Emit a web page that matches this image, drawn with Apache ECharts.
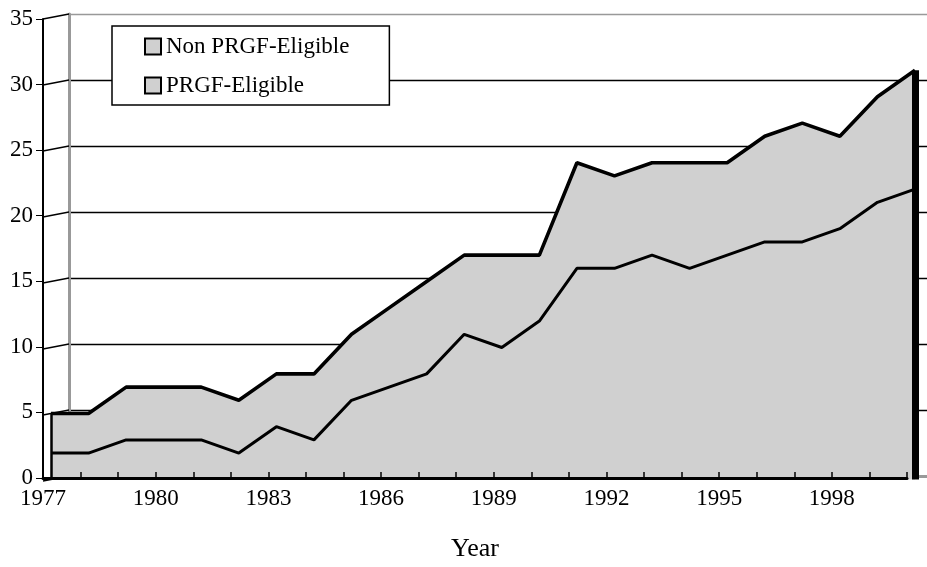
<!DOCTYPE html>
<html>
<head>
<meta charset="utf-8">
<script src="https://cdn.jsdelivr.net/npm/echarts@6/dist/echarts.min.js"></script>
<style>
  html, body { margin: 0; background: #fff; }
  #chart { width: 927px; height: 567px; }
</style>
</head>
<body>
<div id="chart"></div>
<script>
// values
const years = ['1977', '1978', '1979', '1980', '1981', '1982', '1983', '1984',
  '1985', '1986', '1987', '1988', '1989', '1990', '1991', '1992', '1993',
  '1994', '1995', '1996', '1997', '1998', '1999', '2000'];
const prgf = [2, 2, 3, 3, 3, 2, 4, 3, 6, 7, 8, 11, 10, 12, 16, 16, 17, 16, 17, 18, 18, 19, 21, 22];
const nonPrgf = [3, 3, 4, 4, 4, 4, 4, 5, 5, 6, 7, 6, 7, 5, 8, 7, 7, 8, 7, 8, 9, 7, 8, 9];
const yTicks = [0, 5, 10, 15, 20, 25, 30, 35];

const FONT = "'Liberation Serif', 'Times New Roman', serif";
const FILL = '#d0d0d0';
const last = years.length - 1;
const firstTotal = prgf[0] + nonPrgf[0];
const lastTotal = prgf[last] + nonPrgf[last];

const chart = echarts.init(document.getElementById('chart'));

const option = {
  animation: false,
  backgroundColor: '#fff',
  legend: {
    data: ['Non PRGF-Eligible', 'PRGF-Eligible'],
    orient: 'vertical',
    left: 112,
    top: 26,
    padding: [9, 40, 8, 32],
    itemGap: 16,
    itemWidth: 16,
    itemHeight: 16,
    icon: 'rect',
    itemStyle: { color: FILL, borderColor: '#000', borderWidth: 2 },
    backgroundColor: '#fff',
    borderColor: '#000',
    borderWidth: 1.5,
    textStyle: { fontFamily: FONT, fontSize: 23, color: '#000' },
    z: 20,
  },
  grid: [
    // front axes
    { left: 43, right: 20, top: 19, bottom: 86 },
    // data plane
    { left: 51, right: 12, top: 17.5, bottom: 87.5 },
    // back wall
    { left: 69, right: 0, top: 14, bottom: 91 },
  ],
  xAxis: [
    {
      gridIndex: 0,
      type: 'category',
      data: years,
      boundaryGap: false,
      z: 10,
      name: 'Year',
      nameLocation: 'middle',
      nameGap: 58,
      nameTextStyle: { fontFamily: FONT, fontSize: 26, color: '#000' },
      axisLine: { lineStyle: { color: '#000', width: 3 } },
      axisTick: { inside: true, length: 6, interval: 0, lineStyle: { color: '#000', width: 1.5 } },
      axisLabel: { interval: 2, margin: 9, fontFamily: FONT, fontSize: 23, color: '#000' },
      splitLine: { show: false },
    },
    {
      gridIndex: 1,
      type: 'category',
      data: years,
      boundaryGap: false,
      show: false,
    },
    {
      gridIndex: 2,
      type: 'value',
      min: 0,
      max: 1,
      position: 'top',
      z: 1,
      axisLine: { show: true, lineStyle: { color: '#999', width: 3 } },
      axisTick: { show: false },
      axisLabel: { show: false },
      splitLine: { show: false },
    },
  ],
  yAxis: [
    {
      gridIndex: 0,
      type: 'value',
      min: 0,
      max: 35,
      interval: 5,
      axisLine: { show: true, lineStyle: { color: '#000', width: 2 } },
      axisTick: { show: true, length: 7, lineStyle: { color: '#000', width: 1 } },
      axisLabel: { margin: 10, fontFamily: FONT, fontSize: 23, color: '#000' },
      splitLine: { show: false },
    },
    {
      gridIndex: 1,
      type: 'value',
      min: 0,
      max: 35,
      interval: 5,
      show: false,
    },
    {
      gridIndex: 2,
      type: 'value',
      min: 0,
      max: 35,
      interval: 5,
      axisLine: { show: true, lineStyle: { color: '#999', width: 3 } },
      axisTick: { show: false },
      axisLabel: { show: false },
      splitLine: {
        show: true,
        lineStyle: { color: ['#000', '#000', '#000', '#000', '#000', '#000', '#000', '#999'], width: 1.3 },
      },
    },
  ],
  series: [
    {
      // diagonal connectors from front ticks to back wall grid lines
      type: 'custom',
      xAxisIndex: 2,
      yAxisIndex: 2,
      silent: true,
      clip: false,
      z: 1,
      data: yTicks.map(v => [0, v]),
      renderItem: (params, api) => {
        const p = api.coord([api.value(0), api.value(1)]);
        return {
          type: 'line',
          shape: { x1: p[0] - 26, y1: p[1] + 5, x2: p[0], y2: p[1] },
          style: { stroke: '#000', lineWidth: 1.3 },
        };
      },
    },
    {
      name: 'PRGF-Eligible',
      type: 'line',
      xAxisIndex: 1,
      yAxisIndex: 1,
      stack: 'total',
      data: prgf,
      symbol: 'none',
      lineStyle: { color: '#000', width: 3 },
      itemStyle: { color: FILL },
      areaStyle: { color: FILL, opacity: 1 },
      z: 3,
    },
    {
      name: 'Non PRGF-Eligible',
      type: 'line',
      xAxisIndex: 1,
      yAxisIndex: 1,
      stack: 'total',
      data: nonPrgf,
      symbol: 'none',
      lineStyle: { color: '#000', width: 3.6 },
      itemStyle: { color: FILL },
      areaStyle: { color: FILL, opacity: 1 },
      z: 3,
      markLine: {
        silent: true,
        symbol: 'none',
        label: { show: false },
        data: [
          [
            { coord: [years[0], 0], lineStyle: { color: '#000', width: 2.5, type: 'solid' } },
            { coord: [years[0], firstTotal] },
          ],
          [
            { coord: [years[last], 0], lineStyle: { color: '#000', width: 7, type: 'solid' } },
            { coord: [years[last], lastTotal] },
          ],
        ],
      },
    },
  ],
};

chart.setOption(option);
</script>
</body>
</html>
